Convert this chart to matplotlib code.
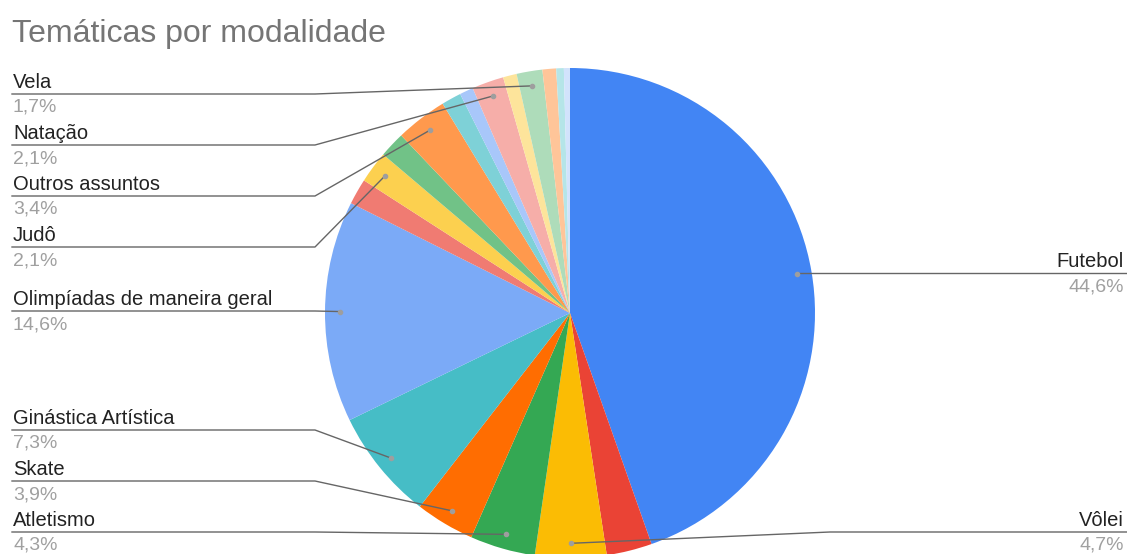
"""Pie chart of themes by sport, with leader-line labels on both sides."""

import numpy as np
import matplotlib
matplotlib.use("Agg")
import matplotlib.pyplot as plt

# Slice values (percent), clockwise from 12 o'clock
labels = [
    "Futebol", "", "Vôlei", "Atletismo", "Skate", "Ginástica Artística",
    "Olimpíadas de maneira geral", "", "Judô", "", "Outros assuntos", "", "",
    "Natação", "", "Vela", "", "", "",
]
values = [
    44.6, 3.0, 4.7, 4.3, 3.9, 7.3,
    14.6, 1.7, 2.1, 1.7, 3.4, 1.3, 0.9,
    2.1, 0.9, 1.7, 0.9, 0.5, 0.4,
]
colors = [
    "#4285F4", "#EA4335", "#FBBC04", "#34A853", "#FF6D01", "#46BDC6",
    "#7BAAF7", "#F07B72", "#FCD04F", "#71C287", "#FF994D", "#7ED1D7", "#A8C7FA",
    "#F6AEA9", "#FDE49B", "#AEDCBA", "#FFC599", "#B5E5E8", "#D2E3FC",
]
pct_text = ["44,6%", "", "4,7%", "4,3%", "3,9%", "7,3%", "14,6%", "", "2,1%", "",
            "3,4%", "", "", "2,1%", "", "1,7%", "", "", ""]

# left-hand label rows: line height in pixels from the top
left_rows = {
    "Vela": 94, "Natação": 145, "Outros assuntos": 196, "Judô": 247,
    "Olimpíadas de maneira geral": 311, "Ginástica Artística": 430,
    "Skate": 481, "Atletismo": 532,
}
right_rows = {"Futebol": 273, "Vôlei": 532}

W, H = 1127, 554
CX, CY, R = 570, H - 313, 245
FONT = "Liberation Sans"
LINE_C = "#666666"
NAME_FS, PCT_FS = 14.5, 14

fig = plt.figure(figsize=(W / 100, H / 100), dpi=100)
ax = fig.add_axes([0, 0, 1, 1])
ax.axis("off")

wedges, _ = ax.pie(values, colors=colors, startangle=90, counterclock=False,
                   center=(CX, CY), radius=R, normalize=True,
                   wedgeprops=dict(linewidth=0))
ax.set_xlim(0, W)
ax.set_ylim(0, H)
ax.set_aspect("equal")

for w, name, pct in zip(wedges, labels, pct_text):
    if not name:
        continue
    mid = np.deg2rad((w.theta1 + w.theta2) / 2)
    dx, dy = CX + 0.94 * R * np.cos(mid), CY + 0.94 * R * np.sin(mid)
    ax.plot(dx, dy, "o", ms=3, color="#9e9e9e", zorder=4)
    if name in left_rows:
        ly = H - left_rows[name]
        xs = [12, 315, dx] if dx > 330 else [12, dx]
        ys = [ly, ly, dy] if dx > 330 else [ly, dy]
        ax.plot(xs, ys, color=LINE_C, lw=1, zorder=3)
        ax.text(13, ly + 6, name, ha="left", va="baseline", fontsize=NAME_FS,
                family=FONT, color="#222222")
        ax.text(13, ly - 5, pct, ha="left", va="top", fontsize=PCT_FS,
                family=FONT, color="#A0A0A0")
    else:
        ly = H - right_rows[name]
        if abs(dy - ly) < 3:
            xs, ys = [dx, W], [ly, ly]
        else:
            xs, ys = [dx, 830, W], [dy, ly, ly]
        ax.plot(xs, ys, color=LINE_C, lw=1, zorder=3)
        ax.text(W - 3, ly + 6, name, ha="right", va="baseline", fontsize=NAME_FS,
                family=FONT, color="#222222")
        ax.text(W - 3, ly - 5, pct, ha="right", va="top", fontsize=PCT_FS,
                family=FONT, color="#A0A0A0")

fig.text(12 / W, 1 - 42 / H, "Temáticas por modalidade", ha="left",
         va="baseline", fontsize=23, family=FONT, color="#757575")

fig.savefig("out.png", dpi=100)
